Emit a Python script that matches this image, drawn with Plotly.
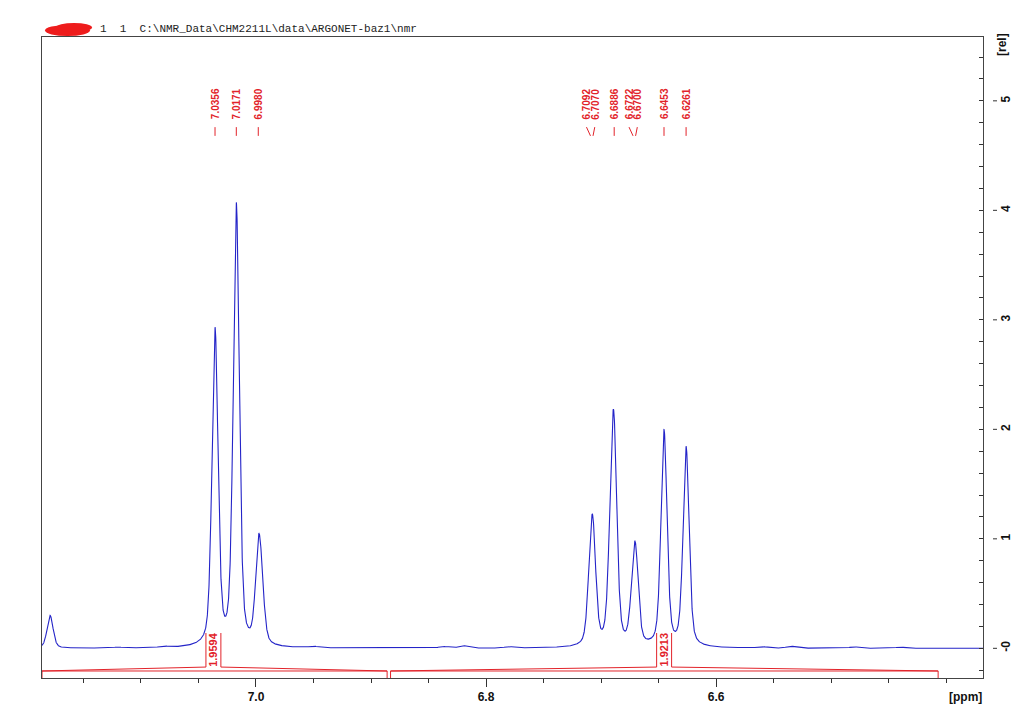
import numpy as np
import plotly.graph_objects as go

# ---------------- data ----------------
peak_labels = ["7.0356", "7.0171", "6.9980", "6.7092", "6.7070",
               "6.6886", "6.6722", "6.6700", "6.6453", "6.6261"]
# line components making up the trace (ppm, relative intensity)
line_ppm = [7.1790, 7.0356, 7.0171, 6.9980, 6.9952, 6.7092, 6.7070,
            6.6910, 6.6886, 6.6722, 6.6700, 6.6453, 6.6261]
line_amp = [0.30, 2.885, 4.03, 0.775, 0.365, 0.458, 0.844,
            0.842, 1.545, 0.332, 0.686, 1.967, 1.82]
# small baseline ripples
ripple_ppm = [7.12, 7.08, 6.95, 6.837, 6.820, 6.78, 6.56, 6.535, 6.48, 6.44]
ripple_amp = [0.008, 0.010, 0.012, 0.015, 0.022, 0.012, 0.012, 0.016, 0.012, 0.010]
# integrals
integral_from = [7.186, 6.883]
integral_to = [6.886, 6.407]
integral_values = ["1.9594", "1.9213"]
integral_label_ppm = [7.0370, 6.6452]
# axes
x_tickvals = [7.0, 6.8, 6.6]
x_ticktext = ["7.0", "6.8", "6.6"]
y_tickvals = [0, 1, 2, 3, 4, 5]
y_ticktext = ["-0", "1", "2", "3", "4", "5"]
header_text = "1\u00a0\u00a01\u00a0\u00a0C:\\NMR_Data\\CHM2211L\\data\\ARGONET-baz1\\nmr"

# ---------------- layout constants ----------------
X_RANGE = [7.186, 6.368]
Y_RANGE = [-0.271, 5.583]
BLUE = "#2424c8"
RED = "#e2232a"
FW = 0.0062   # line FWHM (ppm)
ETA = 0.40    # lorentzian fraction

def pv(x, x0, a):
    g = FW / 2.0
    s = FW / 2.3548
    d = x - x0
    return a * (ETA * g * g / (g * g + d * d) + (1 - ETA) * np.exp(-d * d / (2 * s * s)))

x = np.linspace(X_RANGE[0], X_RANGE[1], 8000)
y = np.zeros_like(x)
for p, a in zip(line_ppm, line_amp):
    y += pv(x, p, a)
for p, a in zip(ripple_ppm, ripple_amp):
    y += a * np.exp(-(x - p) ** 2 / (2 * 0.004 ** 2))

fig = go.Figure()
fig.add_trace(go.Scatter(x=x, y=y, mode="lines", line=dict(color=BLUE, width=1.1),
                         hoverinfo="skip"))

# integral brackets
ib, it, ibox = -0.207, -0.171, 0.14
ybot = Y_RANGE[0]
half = 0.0065
ix, iy = [], []
for f, t, c in zip(integral_from, integral_to, integral_label_ppm):
    bl, br = c + half, c - half
    segs = [((f, ybot), (f, ib)), ((f, ib), (t, ib)), ((t, ib), (t, ybot)),
            ((f, ib), (bl, it)), ((bl, it), (bl, ibox)),
            ((br, ibox), (br, it)), ((br, it), (t, ib))]
    for (x0, y0), (x1, y1) in segs:
        ix += [x0, x1, None]
        iy += [y0, y1, None]
fig.add_trace(go.Scatter(x=ix, y=iy, mode="lines", line=dict(color=RED, width=1),
                         hoverinfo="skip", cliponaxis=False))

# peak label positions (spread close pairs)
shifts = [float(s) for s in peak_labels]
label_pos = list(shifts)
for i in range(len(shifts) - 1):
    if abs(shifts[i] - shifts[i + 1]) < 0.005:
        mid = (shifts[i] + shifts[i + 1]) / 2 + 0.001
        label_pos[i] = mid + 0.0036
        label_pos[i + 1] = mid - 0.0036

cx, cy = [], []
for lp, s in zip(label_pos, shifts):
    cx += [lp, s, None]
    cy += [4.76, 4.68, None]
fig.add_trace(go.Scatter(x=cx, y=cy, mode="lines", line=dict(color=RED, width=1),
                         hoverinfo="skip"))

annotations = []
for lp, s in zip(label_pos, peak_labels):
    annotations.append(dict(x=lp, y=4.97, xref="x", yref="y", text=s, showarrow=False,
                            textangle=-90, xanchor="center", yanchor="middle",
                            font=dict(family="Liberation Sans, Arial", size=10, color=RED,
                                      weight="bold")))
for c, v in zip(integral_label_ppm, integral_values):
    annotations.append(dict(x=c, y=-0.01, xref="x", yref="y", text=v, showarrow=False,
                            textangle=-90, xanchor="center", yanchor="middle",
                            font=dict(family="Liberation Sans, Arial", size=11, color=RED,
                                      weight="bold")))

# pixel helpers for outside-of-plot decorations
L, R, T, B = 42, 41, 37, 44
PW, PH = 1024 - L - R, 722 - T - B
def px(xp): return (xp - L) / PW
def py(yp): return (722 - B - yp) / PH

annotations.append(dict(x=px(98), y=py(29), xref="paper", yref="paper", text=header_text,
                        showarrow=False, xanchor="left", yanchor="middle",
                        font=dict(family="Liberation Mono, Courier New, monospace",
                                  size=11, color="#222")))
annotations.append(dict(x=px(965), y=py(697), xref="paper", yref="paper", text="[ppm]",
                        showarrow=False, xanchor="center", yanchor="middle",
                        font=dict(family="Liberation Sans Narrow, Liberation Sans, Arial",
                                  size=12, color="#111", weight="bold")))
annotations.append(dict(x=px(1002), y=py(45), xref="paper", yref="paper", text="[rel]",
                        showarrow=False, textangle=-90, xanchor="center", yanchor="middle",
                        font=dict(family="Liberation Sans Narrow, Liberation Sans, Arial",
                                  size=12, color="#111", weight="bold")))

shapes = []
# redaction scribble
shapes.append(dict(type="circle", xref="paper", yref="paper", x0=px(45), x1=px(90),
                   y0=py(36), y1=py(25), fillcolor="#ee1c1c", line=dict(width=0)))
shapes.append(dict(type="circle", xref="paper", yref="paper", x0=px(56), x1=px(92),
                   y0=py(32), y1=py(23), fillcolor="#ee1c1c", line=dict(width=0)))
# outer dashes at major y ticks
for v in y_tickvals:
    yp = (v - Y_RANGE[0]) / (Y_RANGE[1] - Y_RANGE[0])
    shapes.append(dict(type="line", xref="paper", yref="paper", x0=px(993), x1=px(997),
                       y0=yp, y1=yp, line=dict(color="#333", width=1)))

tickfont = dict(family="Liberation Sans Narrow, Liberation Sans, Arial", size=12,
                color="#111", weight="bold")

fig.update_layout(
    width=1024, height=722,
    margin=dict(l=L, r=R, t=T, b=B),
    paper_bgcolor="white", plot_bgcolor="white",
    showlegend=False, hovermode=False,
    annotations=annotations, shapes=shapes,
    xaxis=dict(range=X_RANGE, autorange=False, tickmode="array", tickvals=x_tickvals,
               ticktext=x_ticktext, ticks="outside", ticklen=8, tickcolor="#333",
               showline=True, linecolor="#444", linewidth=1, mirror=True,
               showgrid=False, zeroline=False, tickfont=tickfont,
               minor=dict(tickmode="linear", tick0=7.0, dtick=0.05, ticks="outside",
                          ticklen=4, tickcolor="#333", showgrid=False)),
    yaxis=dict(range=Y_RANGE, autorange=False, side="right", tickmode="array",
               tickvals=y_tickvals, ticktext=y_ticktext, tickangle=-90,
               ticks="inside", ticklen=4, tickcolor="#333", ticklabelstandoff=12,
               showline=True, linecolor="#444", linewidth=1, mirror=True,
               showgrid=False, zeroline=False, tickfont=tickfont,
               minor=dict(tickmode="linear", tick0=0, dtick=0.2, ticks="inside",
                          ticklen=4, tickcolor="#333", showgrid=False)),
)

fig.write_html("out.html")
